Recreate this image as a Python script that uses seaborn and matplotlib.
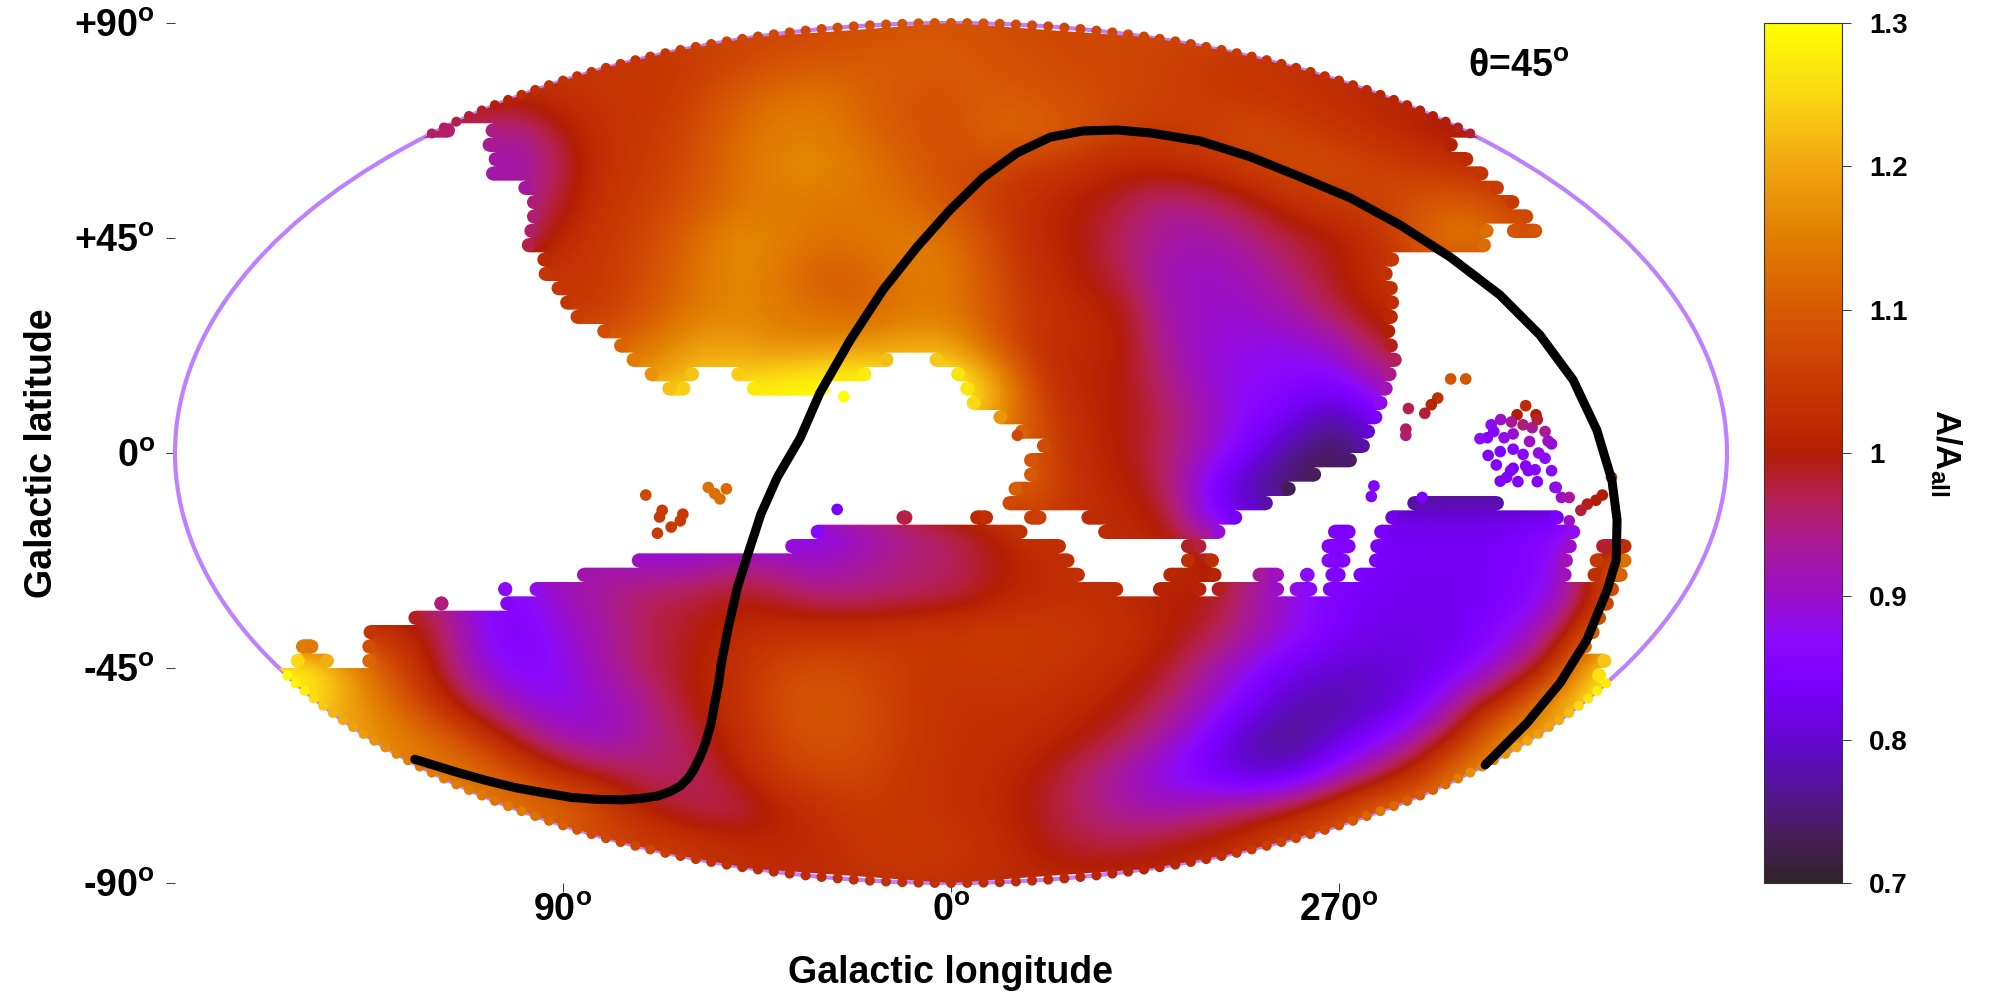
import numpy as np
import matplotlib
matplotlib.use("Agg")
import matplotlib.pyplot as plt
from matplotlib.colors import LinearSegmentedColormap, Normalize
from matplotlib.cm import ScalarMappable
from matplotlib.patches import Ellipse, PathPatch
from matplotlib.path import Path
import pandas as pd
import seaborn as sns

# A/A_all read from the map: (first column, values in percent); rows run from b=+90 to b=-90 in 7.5 deg steps,
# columns from x=-180 to +180 in 10 deg steps of the projected map
r_p900 = (15, [107,108,109,109,108,107])
r_p825 = (11, [104,105,106,108,109,110,110,110,109,108,107,107,106,105,104,103])
r_p750 = (8, [102,103,104,104,106,110,113,114,111,109,109,110,109,108,107,106,105,104,103,102,101])
r_p675 = (6, [96,95,93,100,103,105,107,112,115,115,112,109,108,112,112,109,106,105,106,108,106,104,102,100,98])
r_p600 = (7, [93,91,97,104,105,108,113,116,117,114,111,108,107,105,103,101,102,103,106,108,108,106,105,103])
r_p525 = (8, [93,99,104,106,109,113,115,114,114,112,109,105,102,100,98,94,96,99,103,105,107,109,110,105])
r_p450 = (8, [94,102,105,107,112,117,116,113,114,115,113,107,102,100,96,93,92,95,98,100,103,112,117,110])
r_p375 = (9, [104,105,108,113,117,114,110,111,115,115,108,103,100,97,91,90,92,96,100,103,105])
r_p300 = (9, [104,105,109,114,116,115,112,111,114,114,109,104,102,100,92,90,90,93,98,102])
r_p225 = (10, [110,114,119,119,116,117,118,120,120,110,103,102,101,93,89,88,88,91,99])
r_p150 = (11, [118,124,125,128,130,130,126,130,122,105,101,100,95,89,87,86,85,93])
r_p075 = (18, [130,120,108,102,100,97,91,86,82,76,85])
r_000 = (19, [110,109,102,100,96,90,83,75,72,80])
r_m075 = (19, [111,110,103,101,97,84,76,72,74])
r_m150 = (15, [85,90,94,97,101,105,102,102,100,87,82,83,84,84,83,83,84,86])
r_m225 = (10, [92,90,90,93,92,90,93,95,96,99,102,103,102,102,103,95,88,85,84,83,83,84,86,105,118])
r_m300 = (6, [96,87,85,91,94,97,98,100,98,95,95,96,97,100,102,103,102,100,100,93,88,84,83,82,83,84,88,102,118])
r_m375 = (4, [105,103,99,88,84,89,93,97,99,102,103,104,104,105,105,106,105,104,103,101,98,93,88,84,82,82,83,87,95,112])
r_m450 = (2, [130,130,120,108,100,90,85,87,93,97,100,103,107,108,107,105,104,105,104,103,102,99,93,87,82,80,80,81,85,93,103,125,130])
r_m525 = (3, [127,120,113,104,96,90,87,90,94,100,103,108,110,108,105,103,103,103,102,100,96,90,83,78,77,79,84,97,105,120,130])
r_m600 = (4, [120,117,113,106,98,92,90,94,97,102,107,109,108,105,103,103,102,100,97,92,84,77,75,80,86,95,105,120])
r_m675 = (6, [115,114,108,102,99,96,96,100,105,107,107,104,103,102,100,96,92,86,83,79,81,90,98,106,118])
r_m750 = (8, [115,113,107,100,97,96,100,103,105,104,103,102,99,96,93,92,94,97,102,108,114])
r_m825 = (11, [107,105,103,102,102,104,105,104,103,100,98,98,100,102,105,108])
r_m900 = (15, [102,103,103,103,102,102,102])
field_rows = [r_p900,r_p825,r_p750,r_p675,r_p600,r_p525,r_p450,r_p375,r_p300,r_p225,r_p150,r_p075,r_000,
              r_m075,r_m150,r_m225,r_m300,r_m375,r_m450,r_m525,r_m600,r_m675,r_m750,r_m825,r_m900]

# Sky coverage: x spans with data in each 3-deg latitude band from b=+90 down; +-200 means "out to the rim"
F = [-200, 200]
coverage = [
 [F],[F],[F],[F],[F],[F],[F],
 [[-200,-115],[-108,200]],
 [[-108.7,117.6]],[[-107.3,121.2]],[[-107.9,124.7]],[[-100.4,128.3]],[[-98.4,131.9]],[[-98.4,135.1]],
 [[-99,125.9],[128.9,137.2]],[[-99.6,125.3]],[[-96,104]],[[-95.7,102.5]],[[-92.7,103.7]],[[-90.7,104]],
 [[-88.3,103.7]],[[-82.1,103.1]],[[-78.2,103.7]],
 [[-75.3,-13.3],[-5,104.6]],
 [[-71.1,-58.4],[-51,-18.4],[0,103.4]],
 [[-67,-60.4],[-47.4,-28.1],[2.1,102.5]],
 [[3.6,101.3]],[[9.8,100.1]],[[14.8,98.4]],[[19.9,97.2]],[[16.9,94.2]],[[16.9,85.9]],[[13.3,80]],
 [[11.9,74.7],[105.8,128.3]],
 [[-12.7,-8.9],[4.4,9.8],[16.9,22.2],[30.2,67.6],[100.7,142.2]],
 [[-32.6,17.8],[34.1,63.7],[87.4,93.9],[98.1,146]],
 [[-38.5,26.7],[53.3,59.3],[85.9,93.9],[97.2,145.2],[149.6,157.9]],
 [[-74.1,28.7],[53.3,62.2],[85.9,92.7],[96.9,144.3],[148.1,157.9]],
 [[-86.8,31.1],[49.2,62.8],[69.9,77.3],[80.9,84.4],[86.8,91.6],[93.3,144],[147.6,157]],
 [[-104.6,-102.2],[-97.8,40],[46.8,59.3],[60.4,77.3],[78.5,85],[86.2,155]],
 [[-119.4,-117],[-104.6,153.8]],
 [[-125.9,152]],[[-136.3,150.5]],
 [[-152,-146.7],[-136.6,148.7]],
 [[-153.2,-143.1],[-136.6,153.2]],
 [[-200,152]],
 [F],[F],[F],[F],[F],[F],[F],[F],[F],[F],[F],[F],[F],[F],
]

# Isolated sky patches
isle_x = [-70.8,-56.3,-52.1,-53.6,-54.8,-67,-67.6,-62.2,-62.8,-64.9,-68.1,-26.4,-24.9,115.9,119.4,112.9,111.4,109.9,106.1,105.5,105.5,
          98.1,97.5,109.3,15.4,133.3,131.3,135.7,125.3,132.7,137.8,124.4,128.3,134.2,139.3,127.4,132.7,137.8,130.4,139.3,128.9,140.1,
          134.8,130.4,125.9,136.3,130.4,133.3,127.4,129.8,133.9,140.4,141.6,143.4,143.4,147.6,149.6,151.1,153.2,146.1,
          122.7,124.6,126.5,136,138.5,135.5,127.5,130,136,131.5]
isle_b = [-8.8,-7.2,-7.5,-9.6,-8.5,-12,-13.4,-12.8,-14.2,-15.5,-16.8,-11.8,11.8,15.5,15.5,11.5,10.1,8.3,9.3,3.7,5,
          -6.9,-9.1,-9.3,3.7,9.9,8,8,5.9,5.9,4.5,3.2,3.2,2.4,1.9,.3,-.3,-1.1,-3.2,-3.7,-5.1,-7.2,
          5.3,4,4.5,0,.8,-2.7,-5.9,-3.7,-3.7,-7.2,-9.3,-9.3,-14.2,-10.7,-9.9,-8.8,-5.1,-12,
          3,-.5,-2.5,7,2.5,-3.5,7,6.5,-6,-6]
isle_v = [1.07,1.13,1.12,1.13,1.13,1.05,1.05,1.05,1.05,1.05,1.05,.84,1.3,1.09,1.09,1.03,1.01,.98,.97,.95,.96,
          .85,.85,.84,1.07,1.02,1.0,1.0,.87,.95,.94,.85,.88,.9,.88,.85,.86,.87,.84,.86,.85,.85,
          .93,.9,.86,.88,.86,.85,.85,.85,.85,.88,.9,.93,.9,.99,1.0,1.0,1.03,.98,
          .87,.85,.85,.98,.9,.86,.9,.93,.85,.85]

# theta = 45 deg dipole circle
circle_x = [-124.4,-114.7,-108,-101.3,-94.6,-88,-82,-76.1,-72,-68.1,-65.2,-62.8,-61,-59.6,-58.2,-56.9,-55.7,-54.8,-53.9,-53.3,
            -51.6,-49.5,-46.8,-44.1,-40.3,-35,-30.4,-23.4,-15.8,-7.9,-0.2,7.4,15.3,23,30.6,38.5,46.2,57.8,69.4,81,
            92.6,104.2,115.8,127.3,136.6,144.3,149.8,153.3,154.5,154.3,152.2,147.5,141.3,133.6,123.9]
circle_b = [-64.1,-66.8,-68.5,-70,-71.1,-72.1,-72.5,-72.6,-72.3,-71.8,-70.9,-69.7,-68.1,-66.2,-63.6,-60.6,-56.8,-52.4,-48.2,-44.1,
            -36.3,-28,-20.3,-12.8,-5.1,3.1,12.6,23.6,34.1,43.1,50.9,57.6,62.8,66.1,67.4,67.6,67,65.3,62,57.8,
            53.4,47.7,41,33.1,24.7,15.3,4.8,-5.7,-14,-22.4,-28.7,-39.1,-48.1,-56.5,-65.3]

lat_ticks = [90, 45, 0, -45, -90]
lat_labels = ['+90$^{o}$', '+45$^{o}$', '0$^{o}$', '-45$^{o}$', '-90$^{o}$']
lon_ticks = [-90, 0, 90]
lon_labels = ['90$^{o}$', '0$^{o}$', '270$^{o}$']
cbar_ticks = [0.7, 0.8, 0.9, 1.0, 1.1, 1.2, 1.3]
cbar_labels = ['0.7', '0.8', '0.9', '1', '1.1', '1.2', '1.3']

sns.set_style("white")
plt.rcParams.update({
    'font.family': ['Liberation Sans', 'DejaVu Sans'],
    'font.weight': 'bold',
    'text.color': 'black', 'axes.labelcolor': 'black', 'xtick.labelcolor': 'black', 'ytick.labelcolor': 'black',
    'mathtext.fontset': 'custom',
    'mathtext.rm': 'Liberation Sans',
    'mathtext.it': 'Liberation Sans:italic',
    'mathtext.bf': 'Liberation Sans:bold',
    'mathtext.default': 'regular',
})

stops = [(0.7,(45,35,40)),(0.73,(70,30,85)),(0.765,(85,20,150)),(0.8,(100,5,210)),(0.84,(125,0,255)),(0.87,(140,10,250)),
         (0.9,(155,15,200)),(0.926,(165,22,165)),(0.944,(172,28,135)),(0.967,(180,32,85)),(1.0,(178,30,5)),(1.018,(188,42,3)),
         (1.05,(200,58,3)),(1.1,(215,90,5)),(1.15,(225,125,0)),(1.2,(240,165,15)),(1.25,(250,215,20)),(1.3,(255,255,0))]
cmap = LinearSegmentedColormap.from_list('gp', [(min(1.0, round((v-0.7)/0.6, 6)), tuple(c/255 for c in rgb)) for v, rgb in stops], N=512)
norm = Normalize(0.7, 1.3)

field = np.full((len(field_rows), 37), np.nan)
for i, (start, vals) in enumerate(field_rows):
    field[i, start:start + len(vals)] = np.array(vals) / 100.0
    field[i, :start] = vals[0] / 100.0
    field[i, start + len(vals):] = vals[-1] / 100.0

def sample(x, b):
    c = np.clip((x + 180) / 10.0, 0, 35.999)
    r = np.clip((90 - b) / 7.5, 0, 23.999)
    c0, r0 = int(c), int(r)
    fc, fr = c - c0, r - r0
    return ((1-fr)*((1-fc)*field[r0, c0] + fc*field[r0, c0+1]) + fr*((1-fc)*field[r0+1, c0] + fc*field[r0+1, c0+1]))

fig = plt.figure(figsize=(20, 10), dpi=100)
ax = fig.add_axes([175/2000, 1-883/1000, 1552/2000, 860/1000])

ax.add_patch(Ellipse((0, 0), 360, 180, fill=False, ec='#bf80ff', lw=3, zorder=1, clip_on=False))

im = ax.imshow(field, cmap=cmap, norm=norm, interpolation='bicubic', aspect='auto', origin='upper',
               extent=(-185, 185, -93.75, 93.75), zorder=2)

def half_width(b):
    return 180 * np.sqrt(max(0.0, 1 - (b / 90.0) ** 2))

INSET = 1.66
verts, codes = [], []
cap_x, cap_b, cap_v = [], [], []
for i, spans in enumerate(coverage):
    top, bot = 90 - 3 * i, 87 - 3 * i
    mid = (top + bot) / 2
    ht, hb, hm = half_width(top), half_width(bot), half_width(mid)
    for x0, x1 in spans:
        a, z = x0, x1
        if x0 > -hm:
            a = min(x0 + INSET, (x0 + x1) / 2)
            cap_x.append(a); cap_b.append(mid); cap_v.append(sample(a, mid))
        if x1 < hm:
            z = max(x1 - INSET, (x0 + x1) / 2)
            cap_x.append(z); cap_b.append(mid); cap_v.append(sample(z, mid))
        verts += [(np.clip(a, -ht, ht), top), (np.clip(z, -ht, ht), top),
                  (np.clip(z, -hb, hb), bot), (np.clip(a, -hb, hb), bot), (0, 0)]
        codes += [Path.MOVETO, Path.LINETO, Path.LINETO, Path.LINETO, Path.CLOSEPOLY]
clip = PathPatch(Path(verts, codes), transform=ax.transData)
im.set_clip_path(clip)

rim_x, rim_b, rim_v = [], [], []
for t in np.linspace(0, 2 * np.pi, 300, endpoint=False):
    x, b = 180 * np.cos(t), 90 * np.sin(t)
    row = min(int((90 - b) / 3), 59)
    if any(s[0] - 1 <= x <= s[1] + 1 for s in coverage[row]):
        rim_x.append(x); rim_b.append(b); rim_v.append(sample(x, b))

caps = pd.DataFrame({'x': cap_x, 'b': cap_b, 'v': cap_v})
sns.scatterplot(data=caps, x='x', y='b', hue='v', palette=cmap, hue_norm=norm, s=100, linewidth=0,
                legend=False, ax=ax, zorder=3, clip_on=False)
rims = pd.DataFrame({'x': rim_x, 'b': rim_b, 'v': rim_v})
sns.scatterplot(data=rims, x='x', y='b', hue='v', palette=cmap, hue_norm=norm, s=52, linewidth=0,
                legend=False, ax=ax, zorder=3, clip_on=False)
isles = pd.DataFrame({'x': isle_x, 'b': isle_b, 'v': isle_v})
sns.scatterplot(data=isles, x='x', y='b', hue='v', palette=cmap, hue_norm=norm, s=70, linewidth=0,
                legend=False, ax=ax, zorder=3)

circ = pd.DataFrame({'x': circle_x, 'b': circle_b})
sns.lineplot(data=circ, x='x', y='b', sort=False, estimator=None, color='black', lw=6.5, ax=ax, zorder=4,
             solid_capstyle='round', solid_joinstyle='round')

ax.set_xlim(-180, 180)
ax.set_ylim(-90, 90)
sns.despine(ax=ax, left=True, bottom=True, top=True, right=True)
ax.grid(False)
ax.set_xticks(lon_ticks, lon_labels, fontsize=27, fontweight='bold')
ax.set_yticks(lat_ticks, lat_labels, fontsize=27, fontweight='bold')
ax.tick_params(axis='both', which='major', length=6.5, width=0.7, color='#333333', direction='out', left=True, bottom=True)
ax.tick_params(axis='x', pad=1)
ax.tick_params(axis='y', pad=8)
ax.set_xlabel('Galactic longitude', fontsize=27, fontweight='bold')
ax.set_ylabel('Galactic latitude', fontsize=27, fontweight='bold')
ax.xaxis.set_label_coords(0.5, -0.084)
ax.yaxis.set_label_coords(-0.074, 0.5)

ax.text(1519/2000, 1-67/1000, r'$\mathrm{\theta}$=45$^{o}$', transform=fig.transFigure, fontsize=27, fontweight='bold',
        ha='center', va='center')

cax = fig.add_axes([1764/2000, 1-883/1000, 78/2000, 860/1000])
cb = fig.colorbar(ScalarMappable(norm=norm, cmap=cmap), cax=cax)
cb.set_ticks(cbar_ticks, labels=cbar_labels)
cb.ax.tick_params(length=6.5, width=0.7, pad=13, labelsize=20, color='#333333')
for t in cb.ax.get_yticklabels():
    t.set_fontweight('bold')
cb.outline.set_linewidth(0.8)
cb.outline.set_edgecolor('#333333')
fig.text(1946/2000, 1-453/1000, r'A/A$_{all}$', rotation=270, fontsize=25, fontweight='bold', ha='center', va='center')

fig.savefig('out.png', dpi=100)
